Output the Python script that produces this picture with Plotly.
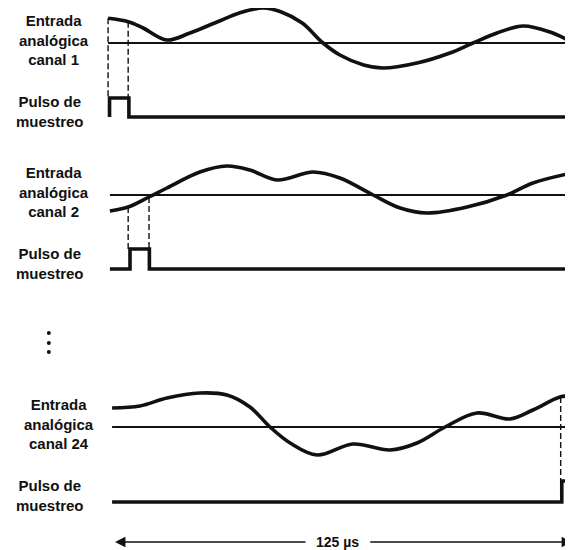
"""
Muestreo TDM de 24 canales: entradas analógicas y pulsos de muestreo
dentro de una trama de 125 us.
"""

import numpy as np
import plotly.graph_objects as go

# Tiempo en microsegundos (una trama = 125 us)
FRAME_US = 125

# Canal 1: tiempo (us) y amplitud (unidades arbitrarias)
ch1_t = [-1.9, 3.6, 7.7, 14.2, 20.5, 27.9, 34.0, 40.5, 45.5, 51.2, 56.9, 61.5,
         68.0, 73.3, 82.6, 91.6, 97.9, 104.5, 111.6, 119.0, 125.0]
ch1_v = [24.7, 21.3, 15, 3, 10, 21, 30, 35, 31, 20, 0, -12, -22, -25, -20, -10,
         0, 10, 17, 11, 1]

# Canal 2
ch2_t = [-1.4, 3.6, 9.3, 14.2, 23.2, 30.6, 36.9, 44.3, 54.2, 61.5, 70.6, 78.0,
         85.3, 96.3, 107.2, 114.3, 125.0]
ch2_v = [-16, -12, -2, 7, 23, 29, 25, 15, 23, 17, 0, -13, -18, -12, 0, 12, 22]

# Canal 24
ch24_t = [-0.8, 6.8, 14.2, 23.2, 30.6, 36.9, 42.4, 47.9, 55.3, 65.1, 75.2, 82.6,
          90.3, 99.0, 108.0, 114.3, 121.7, 125.0]
ch24_v = [19, 21, 29, 34, 32, 20, 0, -16, -28, -17, -23, -16, 0, 14, 8, 17, 30, 31]

# Instantes de muestreo (inicio, fin) de cada canal
ch1_sample = (-1.9, 3.6)
ch2_sample = (3.6, 9.3)
ch24_sample = (121.9, 126.0)

# Textos
ch1_label = "Entrada<br>analógica<br>canal 1"
ch2_label = "Entrada<br>analógica<br>canal 2"
ch24_label = "Entrada<br>analógica<br>canal 24"
pulse_label = "Pulso de<br>muestreo"
frame_label = "125 µs"

# Niveles verticales de cada fila del diagrama
rows = [
    dict(t=ch1_t, v=ch1_v, base=507, low=433, high=452, start=-1.9,
         sample=ch1_sample, label=ch1_label, lx=-16.7),
    dict(t=ch2_t, v=ch2_v, base=355, low=281, high=301, start=-1.4,
         sample=ch2_sample, label=ch2_label, lx=-16.7),
    dict(t=ch24_t, v=ch24_v, base=123, low=48, high=69, start=-0.8,
         sample=ch24_sample, label=ch24_label, lx=-15.3),
]

# La página deja 8 px de margen arriba y a la izquierda
T_MIN, T_MAX = -29.27, 125.27
Y_MIN, Y_MAX = 0, 542
INK = '#111111'
FONT = dict(family='Liberation Sans, Arial, sans-serif', size=15, color=INK)

fig = go.Figure()
annotations = []

for row in rows:
    t = np.array(row['t'])
    y = row['base'] + np.array(row['v'])

    # Línea de referencia (cero)
    fig.add_trace(go.Scatter(
        x=[row['start'], T_MAX], y=[row['base'], row['base']],
        mode='lines', line=dict(color=INK, width=2), hoverinfo='skip'
    ))

    # Señal analógica
    fig.add_trace(go.Scatter(
        x=t, y=y, mode='lines',
        line=dict(color=INK, width=3.6, shape='spline', smoothing=1.0),
        hoverinfo='skip'
    ))

    # Pulso de muestreo
    s0, s1 = row['sample']
    if s1 >= T_MAX:
        px = [row['start'], s0 + 0.3, s0 + 0.3, T_MAX]
        py = [row['low'], row['low'], row['high'], row['high']]
    elif s0 <= row['start']:
        px = [s0 + 0.4, s0 + 0.4, s1 + 0.2, s1 + 0.2, T_MAX]
        py = [row['low'], row['high'], row['high'], row['low'], row['low']]
    else:
        px = [row['start'], s0 + 0.5, s0 + 0.5, s1 + 0.1, s1 + 0.1, T_MAX]
        py = [row['low'], row['low'], row['high'], row['high'], row['low'], row['low']]
    fig.add_trace(go.Scatter(
        x=px, y=py, mode='lines',
        line=dict(color=INK, width=3.6), hoverinfo='skip'
    ))

    # Líneas discontinuas de muestreo
    for ts in row['sample']:
        if ts >= T_MAX:
            continue
        fig.add_trace(go.Scatter(
            x=[ts, ts], y=[np.interp(ts, t, y), row['high']], mode='lines',
            line=dict(color=INK, width=1.4, dash='6px,3px'), hoverinfo='skip'
        ))

    annotations.append(dict(
        x=row['lx'], y=row['base'] + 3, text=row['label'], showarrow=False,
        xanchor='center', yanchor='middle', font=FONT
    ))
    annotations.append(dict(
        x=-17.7, y=(row['low'] + row['high']) / 2 - 4, text=pulse_label,
        showarrow=False, xanchor='center', yanchor='middle', font=FONT
    ))

# Puntos suspensivos entre canal 2 y canal 24
fig.add_trace(go.Scatter(
    x=[-18.1, -18.1, -18.1], y=[217, 207, 198], mode='markers',
    marker=dict(color=INK, size=4), hoverinfo='skip'
))

# Flecha de duración de la trama
arrow_y = 8
gap = (52.5, 69.4)
for tip, tail in [(0, gap[0]), (FRAME_US, gap[1])]:
    annotations.append(dict(
        x=tip, y=arrow_y, ax=tail, ay=arrow_y, axref='x', ayref='y',
        xref='x', yref='y', text='', showarrow=True,
        arrowhead=2, arrowsize=1.3, arrowwidth=1.6, arrowcolor=INK
    ))
annotations.append(dict(
    x=sum(gap) / 2, y=arrow_y, text=f'<b>{frame_label}</b>', showarrow=False,
    xanchor='center', yanchor='middle', font=dict(FONT, size=14)
))

for a in annotations:
    if 'font' in a and a['text'] and not a['text'].startswith('<b>'):
        a['text'] = f'<b>{a["text"]}</b>'.replace('<br>', '</b><br><b>')

fig.update_layout(
    width=565, height=542,
    margin=dict(l=0, r=0, t=0, b=0),
    xaxis=dict(range=[T_MIN, T_MAX], visible=False, fixedrange=True),
    yaxis=dict(range=[Y_MIN, Y_MAX], visible=False, fixedrange=True),
    plot_bgcolor='white', paper_bgcolor='white',
    showlegend=False,
    annotations=annotations
)

fig.write_html("out.html")
